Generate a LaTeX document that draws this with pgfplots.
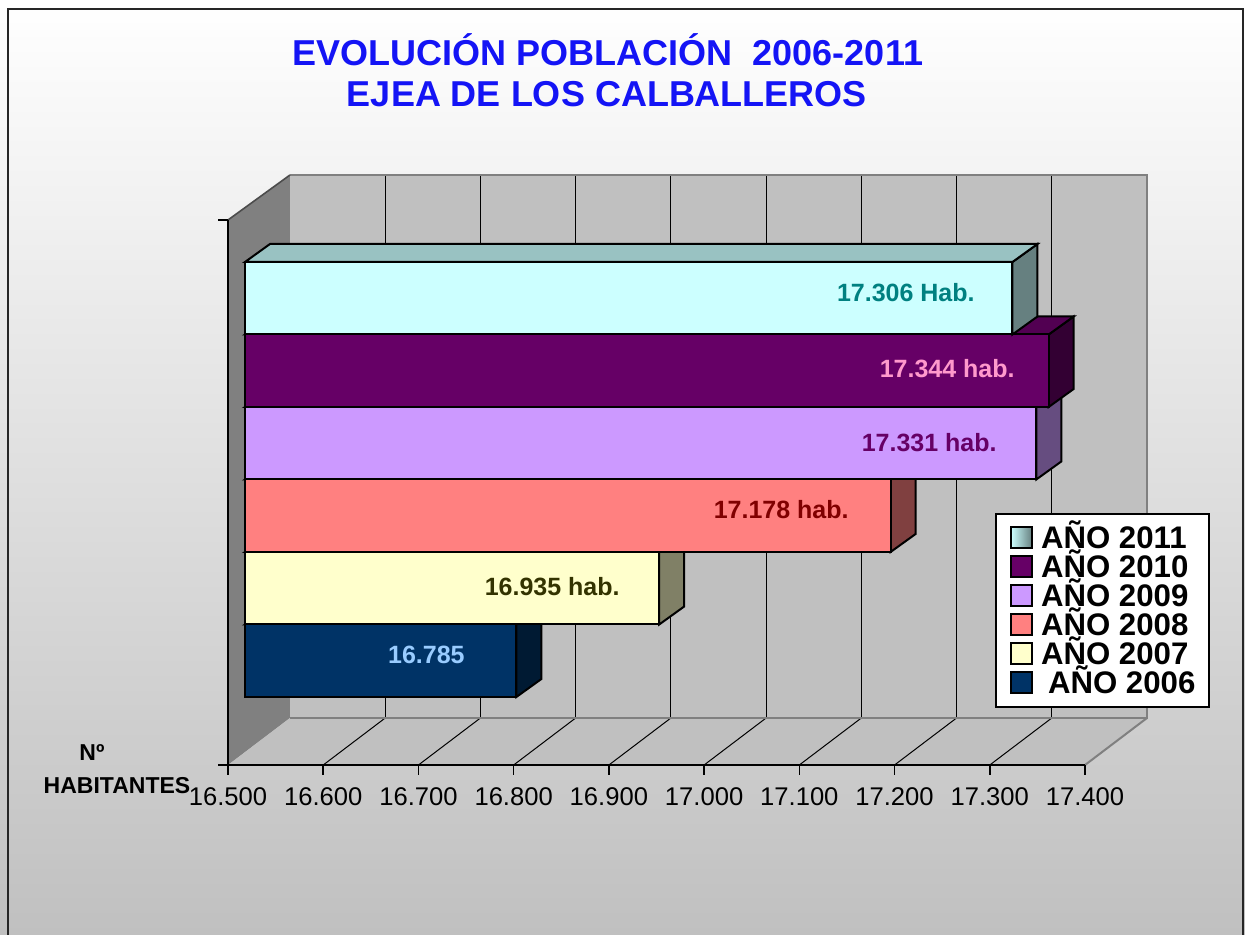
\documentclass[border=0pt]{standalone}
\usepackage{pgfplots}
\pgfplotsset{compat=1.18}
\usepackage{fontspec}
\setmainfont{Liberation Sans}

\definecolor{bgbot}{RGB}{192,192,192}
\definecolor{wallL}{RGB}{128,128,128}
\definecolor{wallB}{RGB}{192,192,192}
\definecolor{edgegray}{RGB}{128,128,128}
\definecolor{titleblue}{RGB}{20,20,245}

\definecolor{f11}{RGB}{204,255,255}\definecolor{t11}{RGB}{153,194,194}\definecolor{s11}{RGB}{102,128,128}
\definecolor{f10}{RGB}{102,0,102}\definecolor{t10}{RGB}{82,0,82}\definecolor{s10}{RGB}{51,0,51}
\definecolor{f09}{RGB}{204,153,255}\definecolor{t09}{RGB}{163,122,204}\definecolor{s09}{RGB}{102,77,128}
\definecolor{f08}{RGB}{255,128,128}\definecolor{t08}{RGB}{204,102,102}\definecolor{s08}{RGB}{128,64,64}
\definecolor{f07}{RGB}{255,255,204}\definecolor{t07}{RGB}{204,204,163}\definecolor{s07}{RGB}{128,128,102}
\definecolor{f06}{RGB}{0,51,102}\definecolor{t06}{RGB}{0,41,82}\definecolor{s06}{RGB}{0,26,51}

\definecolor{l11}{RGB}{0,128,128}
\definecolor{l10}{RGB}{255,153,204}
\definecolor{l09}{RGB}{102,0,102}
\definecolor{l08}{RGB}{128,0,0}
\definecolor{l07}{RGB}{51,51,0}
\definecolor{l06}{RGB}{153,204,255}

\tikzset{
  bar3d/.style={draw=black, line width=1pt, line join=miter, xshift=8.5pt},
  lab/.style={anchor=east, inner sep=0pt, font=\bfseries\fontsize{12.5}{12.5}\selectfont},
}

\begin{document}
\begin{tikzpicture}
% chart background
\shade[top color=white, bottom color=bgbot] (0,0) rectangle (622.5pt,467.5pt);
\begin{scope}[x=0.5pt,y=-0.5pt,yshift=467.5pt]
  \draw[line width=1.2pt, black!85] (8,950) -- (8,9) -- (1243,9) -- (1243,950);
  % walls and floor
  \fill[wallL] (228,220) -- (290,175) -- (290,718) -- (228,765) -- cycle;
  \fill[wallB] (290,175) rectangle (1147,718);
  \fill[wallB] (228,765) -- (1085,765) -- (1147,718) -- (290,718) -- cycle;
  \foreach \k in {1,...,8} {
    \draw[line width=0.5pt] ({290+95.222*\k},175) -- ({290+95.222*\k},718);
    \draw[line width=0.5pt] ({228+95.222*\k},765) -- ({290+95.222*\k},718);
  }
  \draw[edgegray, line width=1pt] (290,718) -- (1147,718) -- (1147,175) -- (290,175);
  \draw[edgegray, line width=1pt] (1085,765) -- (1147,718);
  \draw[black!70, line width=0.8pt] (228,220) -- (290,175);
\end{scope}

\begin{axis}[
  at={(114pt,85pt)}, anchor=south west,
  x=0.476111pt, y=0.5pt,
  xmin=16500, xmax=17400, ymin=170, ymax=715,
  clip=false,
  axis x line*=bottom, axis y line*=left,
  axis line style={line width=0.8pt, black},
  xtick={16500,16600,16700,16800,16900,17000,17100,17200,17300,17400},
  ytick={170,715}, yticklabels={},
  scaled x ticks=false,
  tick align=outside, major tick length=5pt,
  tick style={line width=0.8pt, black},
  /pgf/number format/1000 sep={.},
  /pgf/number format/assume math mode=true,
  xticklabel style={font=\fontsize{12.8}{14}\selectfont, yshift=-3pt},
  legend style={
    at={(axis cs:17305.5,422)}, anchor=north west,
    draw=black, line width=1pt, fill=white,
    font=\bfseries\fontsize{15.6}{15.6}\selectfont,
    inner xsep=7pt, inner ysep=6.5pt,
    row sep=3.5pt,
    nodes={inner sep=0pt, text height=11pt, text depth=0pt},
    /tikz/every odd column/.append style={column sep=4pt},
  },
  legend cell align=left,
  legend image code/.code={\path (0pt,0pt) -- (10.5pt,0pt);
    \draw[#1, draw=black, line width=1pt, overlay] (0pt,-5.25pt) rectangle (10.5pt,5.25pt);},
]
% legend entries
\addlegendimage{left color=f11, right color=s11}
\addlegendentry{AÑO 2011}
\addlegendimage{fill=f10}
\addlegendentry{AÑO 2010}
\addlegendimage{fill=f09}
\addlegendentry{AÑO 2009}
\addlegendimage{fill=f08}
\addlegendentry{AÑO 2008}
\addlegendimage{fill=f07}
\addlegendentry{AÑO 2007}
\addlegendimage{fill=f06}
\addlegendentry{\hspace{3.5pt}AÑO 2006}

% 2006: 16785
\addplot[bar3d, fill=s06, forget plot] coordinates {(16785,238) (16811.25,256) (16811.25,328.5) (16785,310.5)} -- cycle;
\addplot[bar3d, fill=t06, forget plot] coordinates {(16500,310.5) (16785,310.5) (16811.25,328.5) (16526.25,328.5)} -- cycle;
\addplot[bar3d, fill=f06, forget plot] coordinates {(16500,238) (16785,238) (16785,310.5) (16500,310.5)} -- cycle;
% 2007: 16935
\addplot[bar3d, fill=s07, forget plot] coordinates {(16935,310.5) (16961.25,328.5) (16961.25,401) (16935,383)} -- cycle;
\addplot[bar3d, fill=t07, forget plot] coordinates {(16500,383) (16935,383) (16961.25,401) (16526.25,401)} -- cycle;
\addplot[bar3d, fill=f07, forget plot] coordinates {(16500,310.5) (16935,310.5) (16935,383) (16500,383)} -- cycle;
% 2008: 17178
\addplot[bar3d, fill=s08, forget plot] coordinates {(17178,383) (17204.25,401) (17204.25,473.5) (17178,455.5)} -- cycle;
\addplot[bar3d, fill=t08, forget plot] coordinates {(16500,455.5) (17178,455.5) (17204.25,473.5) (16526.25,473.5)} -- cycle;
\addplot[bar3d, fill=f08, forget plot] coordinates {(16500,383) (17178,383) (17178,455.5) (16500,455.5)} -- cycle;
% 2009: 17331
\addplot[bar3d, fill=s09, forget plot] coordinates {(17331,455.5) (17357.25,473.5) (17357.25,546) (17331,528)} -- cycle;
\addplot[bar3d, fill=t09, forget plot] coordinates {(16500,528) (17331,528) (17357.25,546) (16526.25,546)} -- cycle;
\addplot[bar3d, fill=f09, forget plot] coordinates {(16500,455.5) (17331,455.5) (17331,528) (16500,528)} -- cycle;
% 2010: 17344
\addplot[bar3d, fill=s10, forget plot] coordinates {(17344,528) (17370.25,546) (17370.25,618.5) (17344,600.5)} -- cycle;
\addplot[bar3d, fill=t10, forget plot] coordinates {(16500,600.5) (17344,600.5) (17370.25,618.5) (16526.25,618.5)} -- cycle;
\addplot[bar3d, fill=f10, forget plot] coordinates {(16500,528) (17344,528) (17344,600.5) (16500,600.5)} -- cycle;
% 2011: 17306
\addplot[bar3d, fill=s11, forget plot] coordinates {(17306,600.5) (17332.25,618.5) (17332.25,691) (17306,673)} -- cycle;
\addplot[bar3d, fill=t11, forget plot] coordinates {(16500,673) (17306,673) (17332.25,691) (16526.25,691)} -- cycle;
\addplot[bar3d, fill=f11, forget plot] coordinates {(16500,600.5) (17306,600.5) (17306,673) (16500,673)} -- cycle;

% value labels
\node[lab, text=l11] at (axis cs:17306,642) [xshift=-10.25pt] {17.306 Hab.};
\node[lab, text=l10] at (axis cs:17344,566) [xshift=-8.35pt] {17.344 hab.};
\node[lab, text=l09] at (axis cs:17331,492) [xshift=-11.15pt] {17.331 hab.};
\node[lab, text=l08] at (axis cs:17178,425) [xshift=-12.3pt] {17.178 hab.};
\node[lab, text=l07] at (axis cs:16935,348) [xshift=-11.1pt] {16.935 hab.};
\node[lab, text=l06] at (axis cs:16785,280) [xshift=-17.2pt] {16.785};
\end{axis}

\begin{scope}[x=0.5pt,y=-0.5pt,yshift=467.5pt]
  \node[font=\bfseries\fontsize{18}{18}\selectfont, text=titleblue] at (608,50) {EVOLUCIÓN POBLACIÓN\ \ 2006-2011};
  \node[font=\bfseries\fontsize{18}{18}\selectfont, text=titleblue] at (607,94) {EJEA DE LOS CALBALLEROS};
  \node[font=\bfseries\fontsize{11.5}{11.5}\selectfont] at (92,753) {Nº};
  \node[font=\bfseries\fontsize{11.5}{11.5}\selectfont] at (117,786) {HABITANTES};
\end{scope}
\pgfresetboundingbox
\path (0,0) rectangle (622.5pt,467.5pt);
\end{tikzpicture}
\end{document}
